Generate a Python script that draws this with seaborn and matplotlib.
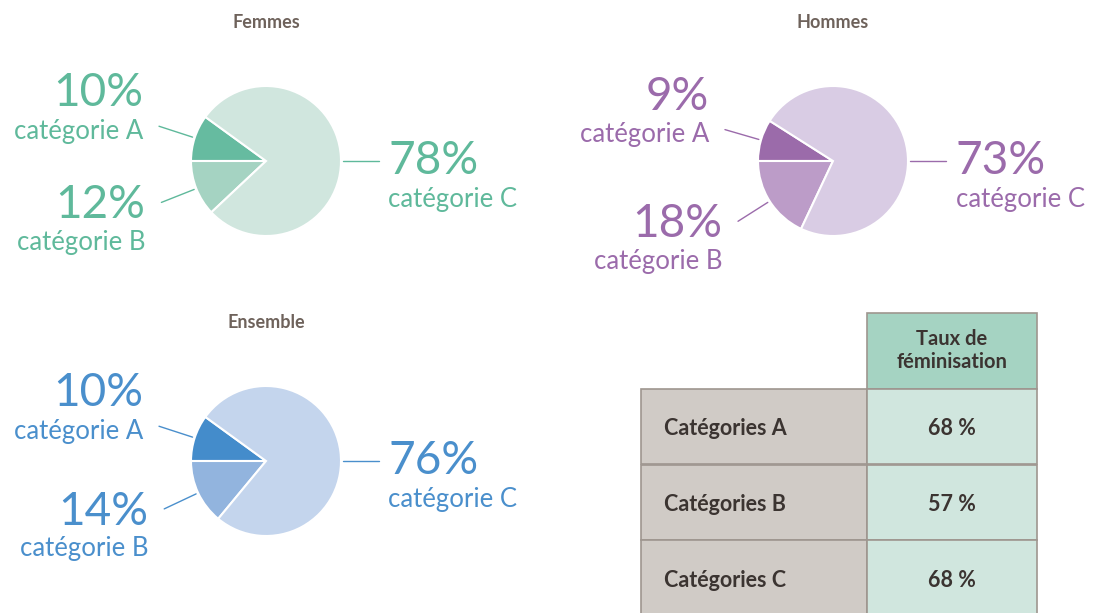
import matplotlib.pyplot as plt
import numpy as np
import seaborn as sns

sns.set_theme(style="white")
plt.rcParams['font.family'] = ['Lato', 'DejaVu Sans']

# data
categories = ["A", "B", "C"]
femmes = [10, 12, 78]
hommes = [9, 18, 73]
ensemble = [10, 14, 76]

pal_femmes = sns.color_palette(["#66bba0", "#a5d3c2", "#d0e6de"])
pal_hommes = sns.color_palette(["#9b6baa", "#bc9cc8", "#d9cce4"])
pal_ensemble = sns.color_palette(["#448ccb", "#92b4de", "#c4d5ed"])
txt_femmes = "#5fb99b"
txt_hommes = "#9b6bab"
txt_ensemble = "#4a8fcc"

row_labels = ["Catégories A", "Catégories B", "Catégories C"]
taux_feminisation = [68, 57, 68]
col_header = "Taux de\nféminisation"

W, H = 1104, 613
R = 75  # pie radius in pixels
fig = plt.figure(figsize=(W / 100, H / 100), dpi=100)


def pie_block(cx, cy, title, values, colors, tcolor):
    ax = fig.add_axes([(cx - 280) / W, 1 - (cy + 150) / H, 560 / W, 300 / H])
    wedges, _ = ax.pie(values, colors=colors, startangle=180 - 3.6 * values[0],
                       counterclock=True, radius=1,
                       wedgeprops=dict(edgecolor="white", linewidth=1.5))
    ax.set_xlim(-280 / R, 280 / R)
    ax.set_ylim(-150 / R, 150 / R)
    ax.set_aspect("equal")
    ax.axis("off")
    ax.text(0, 139 / R, title, ha="center", va="center", fontsize=13,
            fontweight="bold", color="#6e625b")
    for i, (w, v, cat) in enumerate(zip(wedges, values, categories)):
        ang = np.deg2rad((w.theta1 + w.theta2) / 2) if i < 2 else 0.0
        x0, y0 = 1.03 * np.cos(ang), 1.03 * np.sin(ang)
        x1, y1 = 1.5 * np.cos(ang), 1.5 * np.sin(ang)
        ax.plot([x0, x1], [y0, y1], color=tcolor, lw=1)
        if i == 0:
            ha, dx, dy_pct, dy_cat = "right", -16, 33, -5
        elif i == 1:
            ha, dx, dy_pct, dy_cat = "right", -16, -3, -40
        else:
            ha, dx, dy_pct, dy_cat = "left", 10, 0, -38
        ax.annotate(f"{v}%", (x1, y1), xytext=(dx, dy_pct), textcoords="offset pixels",
                    ha=ha, va="center", fontsize=33, fontweight="normal", color=tcolor)
        ax.annotate(f"catégorie {cat}", (x1, y1), xytext=(dx, dy_cat),
                    textcoords="offset pixels", ha=ha, va="center", fontsize=18.5,
                    fontweight="normal", color=tcolor)


pie_block(266, 161, "Femmes", femmes, pal_femmes, txt_femmes)
pie_block(833, 161, "Hommes", hommes, pal_hommes, txt_hommes)
pie_block(266, 461, "Ensemble", ensemble, pal_ensemble, txt_ensemble)

# table
tax = fig.add_axes([641 / W, 1 - 616 / H, 396 / W, 303 / H])
tax.axis("off")
cell_text = [["", col_header]] + [[lab, f"{v} %"] for lab, v in zip(row_labels, taux_feminisation)]
tbl = tax.table(cellText=cell_text, colWidths=[226 / 396, 170 / 396],
                bbox=[0, 0, 1, 1], cellLoc="center")
tbl.auto_set_font_size(False)
for (r, c), cell in tbl.get_celld().items():
    cell.set_edgecolor("#9e968f")
    cell.set_linewidth(1.2)
    txt = cell.get_text()
    txt.set_fontsize(15.5)
    txt.set_fontweight("bold")
    txt.set_color("#3b3431")
    if r == 0 and c == 0:
        cell.set_facecolor("white")
        cell.visible_edges = ""
    elif r == 0:
        cell.set_facecolor("#a5d3c2")
        txt.set_linespacing(1.2)
        txt.set_fontsize(14.5)
    else:
        txt.set_verticalalignment("center_baseline")
        if c == 0:
            cell.set_facecolor("#d0cbc6")
            cell._loc = "left"
            txt.set_horizontalalignment("left")
        else:
            cell.set_facecolor("#d0e6de")

fig.savefig("out.png", dpi=100)
